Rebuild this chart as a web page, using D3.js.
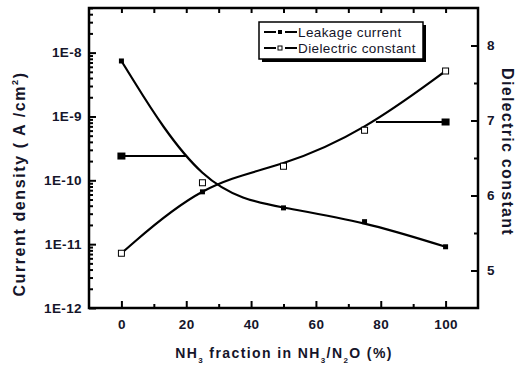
<!DOCTYPE html>
<html>
<head>
<meta charset="utf-8">
<script src="https://cdn.jsdelivr.net/npm/d3@7/dist/d3.min.js"></script>
<style>
  html, body { margin: 0; padding: 0; background: #fff; }
  svg { display: block; }
  text { font-family: "Liberation Sans", Arial, sans-serif; fill: #15152a; }
</style>
</head>
<body>
<svg id="chart" width="518" height="370"></svg>
<script>
// ---- data ----
const fractions = [0, 25, 50, 75, 100];                       // NH3 fraction (%)
const leakage = [7.4e-9, 6.6e-11, 3.7e-11, 2.25e-11, 9.1e-12]; // A/cm^2
const dielectric = [5.23, 6.17, 6.39, 6.87, 7.66];
const xTicks = [0, 20, 40, 60, 80, 100];
const xMinorTicks = [10, 30, 50, 70, 90];
const leftTicks = [1e-12, 1e-11, 1e-10, 1e-9, 1e-8];
const leftTickLabels = ["1E-12", "1E-11", "1E-10", "1E-9", "1E-8"];
const rightTicks = [5, 6, 7, 8];
const rightMinorTicks = [5.5, 6.5, 7.5];
const seriesNames = ["Leakage current", "Dielectric constant"];
// pointer lines indicating which axis each curve belongs to
const leakPointerX = [0, 20.2];
const leakPointerY = 2.4e-10;
const dielPointerX = [78.5, 100];
const dielPointerY = 6.98;

const svg = d3.select("#chart");
const L = 89, R = 478, T = 8, B = 308;

const x = d3.scaleLinear().domain([-10, 110]).range([L, R]);
const yL = d3.scaleLog().domain([1e-12, 5e-8]).range([B, T]);
const yR = d3.scaleLinear().domain([4.5, 8.5]).range([B, T]);

// minor log ticks
const leftMinor = [];
for (let e = -12; e <= -8; e++) {
  for (let m = 2; m <= 9; m++) {
    const v = m * Math.pow(10, e);
    if (v <= 5e-8 + 1e-20) leftMinor.push(v);
  }
}

// ---- axes (inside ticks) ----
const fontTick = "bold 13.5px 'Liberation Sans', Arial, sans-serif";

// bottom
const gB = svg.append("g").attr("transform", `translate(0,${B})`);
gB.call(d3.axisBottom(x).tickValues(xTicks).tickSize(-7).tickPadding(11).tickFormat(d3.format("d")));
gB.append("g").call(d3.axisBottom(x).tickValues(xMinorTicks).tickSize(-4).tickFormat(""));
// top
const gT = svg.append("g").attr("transform", `translate(0,${T})`);
gT.call(d3.axisTop(x).tickValues(xTicks.concat(xMinorTicks)).tickSize(-5).tickFormat(""));
// left
const gL = svg.append("g").attr("transform", `translate(${L},0)`);
gL.call(d3.axisLeft(yL).tickValues(leftTicks).tickSize(-7).tickPadding(7)
  .tickFormat((d, i) => leftTickLabels[i]));
gL.append("g").call(d3.axisLeft(yL).tickValues(leftMinor.filter(v => leftTicks.indexOf(v) < 0)).tickSize(-4).tickFormat(""));
// right
const gR = svg.append("g").attr("transform", `translate(${R},0)`);
gR.call(d3.axisRight(yR).tickValues(rightTicks).tickSize(-7).tickPadding(9).tickFormat(d3.format("d")));
gR.append("g").call(d3.axisRight(yR).tickValues(rightMinorTicks).tickSize(-4).tickFormat(""));

svg.selectAll(".domain").remove();
svg.selectAll(".tick line").attr("stroke", "#000").attr("stroke-width", 2);
svg.selectAll(".tick text").style("font", fontTick).style("letter-spacing", "0.4px").attr("fill", "#15152a");

// frame
svg.append("rect").attr("x", L).attr("y", T).attr("width", R - L).attr("height", B - T)
  .attr("fill", "none").attr("stroke", "#000").attr("stroke-width", 2.5);

// ---- curves ----
const leakLine = d3.line().x((d, i) => x(fractions[i])).y(d => yL(d)).curve(d3.curveBasis);
const dielLine = d3.line().x((d, i) => x(fractions[i])).y(d => yR(d)).curve(d3.curveBasis);

svg.append("path").attr("d", leakLine(leakage)).attr("fill", "none")
  .attr("stroke", "#000").attr("stroke-width", 2.2);
svg.append("path").attr("d", dielLine(dielectric)).attr("fill", "none")
  .attr("stroke", "#000").attr("stroke-width", 2.2);

// markers
svg.selectAll(".leakPt").data(leakage).enter().append("rect")
  .attr("x", (d, i) => x(fractions[i]) - 2.5).attr("y", d => yL(d) - 2.5)
  .attr("width", 5).attr("height", 5).attr("fill", "#000");
svg.selectAll(".dielPt").data(dielectric).enter().append("rect")
  .attr("x", (d, i) => x(fractions[i]) - 3).attr("y", d => yR(d) - 3)
  .attr("width", 6).attr("height", 6).attr("fill", "#fff").attr("stroke", "#000").attr("stroke-width", 1);

// pointer lines
svg.append("line").attr("x1", x(leakPointerX[0])).attr("x2", x(leakPointerX[1]))
  .attr("y1", yL(leakPointerY)).attr("y2", yL(leakPointerY)).attr("stroke", "#000").attr("stroke-width", 2);
svg.append("rect").attr("x", x(leakPointerX[0]) - 4).attr("y", yL(leakPointerY) - 3.5)
  .attr("width", 8).attr("height", 7).attr("fill", "#000");
svg.append("line").attr("x1", x(dielPointerX[0])).attr("x2", x(dielPointerX[1]))
  .attr("y1", yR(dielPointerY)).attr("y2", yR(dielPointerY)).attr("stroke", "#000").attr("stroke-width", 2);
svg.append("rect").attr("x", x(dielPointerX[1]) - 4).attr("y", yR(dielPointerY) - 3.5)
  .attr("width", 8).attr("height", 7).attr("fill", "#000");

// ---- legend ----
const lg = svg.append("g");
lg.append("rect").attr("x", 262).attr("y", 25).attr("width", 164).attr("height", 37).attr("fill", "#000");
lg.append("rect").attr("x", 259).attr("y", 22).attr("width", 164).attr("height", 37)
  .attr("fill", "#fff").attr("stroke", "#000").attr("stroke-width", 1.5);
const legY = [32, 48];
seriesNames.forEach((name, i) => {
  const y = legY[i];
  lg.append("line").attr("x1", 264).attr("x2", 276).attr("y1", y).attr("y2", y).attr("stroke", "#000").attr("stroke-width", 2);
  lg.append("line").attr("x1", 285).attr("x2", 297).attr("y1", y).attr("y2", y).attr("stroke", "#000").attr("stroke-width", 2);
  if (i === 0) {
    lg.append("rect").attr("x", 278).attr("y", y - 2).attr("width", 4).attr("height", 4).attr("fill", "#000");
  } else {
    lg.append("rect").attr("x", 278).attr("y", y - 2).attr("width", 4).attr("height", 4)
      .attr("fill", "#fff").attr("stroke", "#000").attr("stroke-width", 1);
  }
  lg.append("text").attr("x", 298).attr("y", y + 5).text(name)
    .style("font-size", "13.5px").style("letter-spacing", "0.4px");
});

// ---- axis titles ----
const xt = svg.append("text").attr("x", 284).attr("y", 358).attr("text-anchor", "middle")
  .style("font-weight", "bold").style("font-size", "14px").style("letter-spacing", "1.4px");
xt.append("tspan").text("NH");
xt.append("tspan").text("3").style("font-size", "8px").attr("dy", 5);
xt.append("tspan").text(" fraction in NH").attr("dy", -5);
xt.append("tspan").text("3").style("font-size", "8px").attr("dy", 5);
xt.append("tspan").text("/N").attr("dy", -5);
xt.append("tspan").text("2").style("font-size", "8px").attr("dy", 5);
xt.append("tspan").text("O (%)").attr("dy", -5);

const yt = svg.append("text").attr("transform", "translate(25,184) rotate(-90)").attr("text-anchor", "middle")
  .style("font-weight", "bold").style("font-size", "16px").style("letter-spacing", "1.6px");
yt.append("tspan").text("Current density ( A /cm");
yt.append("tspan").text("2").style("font-size", "9px").attr("dy", -7);
yt.append("tspan").text(")").attr("dy", 7);

svg.append("text").attr("transform", "translate(502,152) rotate(90)").attr("text-anchor", "middle")
  .style("font-weight", "bold").style("font-size", "16px").style("letter-spacing", "1.3px").text("Dielectric constant");
</script>
</body>
</html>
